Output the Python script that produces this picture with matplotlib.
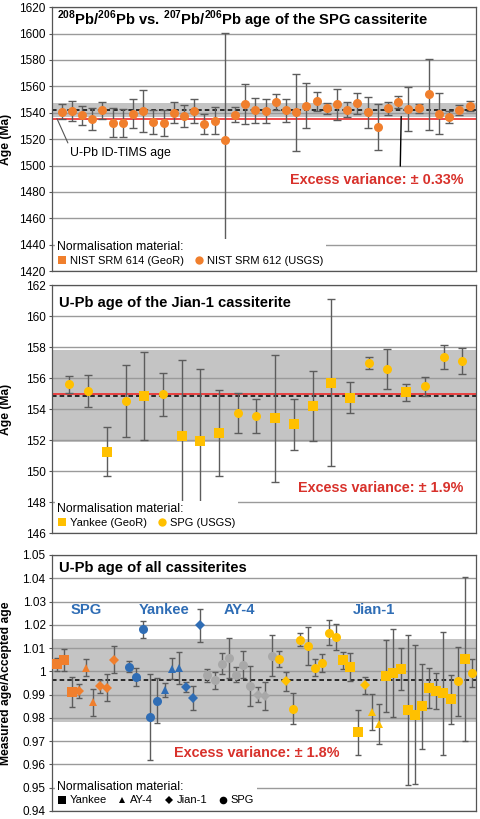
import numpy as np
import matplotlib
matplotlib.use('Agg')
import matplotlib.pyplot as plt
from matplotlib.lines import Line2D

plt.rcParams['font.family'] = ['Liberation Sans', 'DejaVu Sans']
plt.rcParams['mathtext.fontset'] = 'custom'
plt.rcParams['mathtext.rm'] = 'Liberation Sans'
plt.rcParams['mathtext.bf'] = 'Liberation Sans:bold'

# ---- panel 1: SPG 208Pb/206Pb vs 207Pb/206Pb ages (Ma) ----
spg_age = [1540.7, 1541.4, 1538.0, 1535.4, 1541.9, 1532.3, 1532.3, 1539.4, 1541.2, 1533.0,
           1532.3, 1540.0, 1537.6, 1541.2, 1531.6, 1534.0, 1519.2, 1538.6, 1546.5, 1541.7,
           1541.4, 1548.2, 1541.9, 1540.2, 1545.2, 1548.7, 1543.2, 1546.5, 1542.4, 1547.0,
           1540.2, 1529.3, 1543.2, 1548.2, 1543.0, 1543.2, 1554.0, 1539.4, 1536.9, 1541.9, 1545.2]
spg_err = [5.8, 7.7, 7.0, 8.5, 6.5, 11.0, 10.6, 10.8, 15.8, 9.1, 10.0, 7.9, 8.4, 8.9, 7.4,
           10.5, 81.0, 6.0, 15.4, 9.3, 9.3, 5.9, 8.6, 29.2, 17.0, 7.3, 4.4, 11.8, 5.8, 8.0,
           12.0, 17.4, 4.7, 4.4, 16.8, 3.2, 27.0, 15.2, 4.7, 3.6, 3.8]
spg_mean, spg_ev = 1542.2, 5.1
spg_tims = 1535.6

# ---- panel 2: Jian-1 U-Pb ages (Ma) ----
jian_age = [155.60, 155.18, 151.25, 154.54, 154.86, 154.97, 152.30, 151.96, 152.49, 153.76, 153.55,
            153.40, 153.03, 154.19, 155.72, 154.75, 156.99, 156.58, 155.08, 155.48, 157.37, 157.12]
jian_err = [0.57, 1.03, 1.58, 2.33, 2.85, 1.39, 4.90, 4.60, 2.77, 1.31, 1.11,
            4.08, 1.65, 2.26, 5.41, 1.00, 0.38, 1.28, 0.53, 0.61, 0.80, 0.84]
jian_norm = ['o', 'o', 's', 'o', 's', 'o', 's', 's', 's', 'o', 'o',
             's', 's', 's', 's', 's', 'o', 'o', 's', 'o', 'o', 'o']
jian_mean, jian_ev = 154.85, 2.94
jian_tims = 155.0

# ---- panel 3: measured/accepted age, all cassiterites (nan = gap) ----
nan = np.nan
ratio = [1.0030, 1.0050, 0.9910, 0.9917, 1.0015, 0.9867, 0.9935, 0.9929, 1.0050,
         nan,
         1.0019, 0.9976, 1.0181, 0.9804, 0.9874, 0.9919, 1.0011, 1.0015, 0.9933, 0.9886, 1.0197,
         0.9983, 0.9961, 1.0033, 1.0057, 0.9986, 1.0029, 0.9937, 0.9900, 0.9894, 1.0067,
         1.0053, 0.9957, 0.9839, 1.0136, 1.0110, 1.0015, 1.0036, 1.0165, 1.0146, 1.0047,
         1.0019, 0.9738, 0.9940, 0.9826, 0.9774, 0.9979, 0.9993, 1.0010, 0.9833, 0.9814,
         0.9850, 0.9929, 0.9915, 0.9905, 0.9879, 0.9957, 1.0053, 0.9993]
ratio_err = [0.0027, 0.0048, 0.0065, 0.0030, 0.0037, 0.0058, 0.0027, 0.0058, 0.0057,
             nan,
             0.0024, 0.0039, 0.0036, 0.0186, 0.0097, 0.0030, 0.0045, 0.0068, 0.0020, 0.0053, 0.0072,
             0.0029, 0.0037, 0.0046, 0.0087, 0.0031, 0.0058, 0.0086, 0.0032, 0.0062, 0.0088,
             0.0036, 0.0040, 0.0066, 0.0028, 0.0082, 0.0037, 0.0038, 0.0054, 0.0056, 0.0036,
             0.0061, 0.0096, 0.0036, 0.0077, 0.0086, 0.0155, 0.0190, 0.0090, 0.0322, 0.0297,
             0.0182, 0.0087, 0.0076, 0.0265, 0.0104, 0.0148, 0.0352, 0.0060]
sample = ['SPG'] * 9 + [''] + ['Yankee'] * 11 + ['AY-4'] * 10 + ['Jian-1'] * 28
norm = ['s', 's', 's', 'D', '^', '^', 'D', 'D', 'D',
        '',
        'o', 'o', 'o', 'o', 'o', '^', '^', '^', 'D', 'D', 'D',
        'o', 'o', 'o', 'o', 'o', 'o', 'o', 'D', 'D', 'o',
        'o', 'D', 'o', 'o', 'o', 'o', 'o', 'o', 'o', 's',
        's', 's', 'D', '^', '^', 's', 's', 's', 's', 's',
        's', 's', 's', 's', 's', 'o', 's', 'o']
all_mean, all_ev = 0.9961, 0.0178
group_names = ['SPG', 'Yankee', 'AY-4', 'Jian-1']

ORANGE = '#F07F2D'
YELLOW = '#FFC000'
BLUE = '#2F6DB5'
GREY = '#A8A8A8'
RED = '#D8312B'
ECOL = '#5C5C5C'
sample_col = {'SPG': ORANGE, 'Yankee': BLUE, 'AY-4': GREY, 'Jian-1': YELLOW}
msize = {'o': 6.5, 's': 6.5, 'D': 4.8, '^': 6}

fig = plt.figure(figsize=(4.8, 8.19), dpi=100)
ax1 = fig.add_axes([0.108, 0.669, 0.883, 0.3223])
ax2 = fig.add_axes([0.108, 0.349, 0.883, 0.3028])
ax3 = fig.add_axes([0.108, 0.0098, 0.883, 0.3126])


def style(ax):
    ax.set_axisbelow(True)
    ax.grid(axis='y', color='#9a9a9a', lw=1)
    ax.set_xticks([])
    ax.tick_params(axis='y', labelsize=8.5, length=2.5, color='#555', pad=2)
    for s in ax.spines.values():
        s.set_color('#555')
        s.set_linewidth(0.9)
    ax.yaxis.set_label_coords(-0.095, 0.5)


def legend(ax, handles, labels, ncol):
    lg = ax.legend(handles, labels, loc='lower left', ncol=ncol, title='Normalisation material:',
                   fontsize=8, title_fontsize=8.8, frameon=True, fancybox=False,
                   framealpha=1, edgecolor='none', borderaxespad=0.25, borderpad=0.25,
                   handlelength=0.8, handletextpad=0.3, columnspacing=1.0,
                   labelspacing=0.2, alignment='left')
    lg.set_zorder(5)
    return lg


# panel 1
x1 = np.arange(1, len(spg_age) + 1)
ax1.axhspan(spg_mean - spg_ev, spg_mean + spg_ev, color='#c4c4c4', zorder=0.2, lw=0)
ax1.axhline(spg_tims, color='#EE2A2A', lw=1.2, zorder=2)
ax1.axhline(spg_mean, color='black', lw=1.1, ls=(0, (3, 2)), zorder=2)
ax1.errorbar(x1, spg_age, yerr=spg_err, fmt='none', ecolor=ECOL, elinewidth=1,
             capsize=2.6, capthick=1, zorder=3)
ax1.plot(x1, spg_age, 'o', color=ORANGE, ms=6.5, mew=0, zorder=4)
ax1.set_xlim(0.05, 41.6)
ax1.set_ylim(1420, 1620)
ax1.set_yticks(np.arange(1420, 1621, 20))
ax1.set_ylabel('Age (Ma)', fontsize=8.7, fontweight='bold')
style(ax1)
ax1.text(0.013, 0.951, r'$^{\mathbf{208}}$Pb/$^{\mathbf{206}}$Pb vs. $^{\mathbf{207}}$Pb/$^{\mathbf{206}}$Pb age of the SPG cassiterite',
         transform=ax1.transAxes, fontsize=10.6, fontweight='bold', va='center', ha='left')
ax1.annotate('U-Pb ID-TIMS age', xy=(0.55, spg_tims), xytext=(1.8, 1509.5), fontsize=8.8,
             va='center', ha='left',
             arrowprops=dict(arrowstyle='-', color='#555', lw=0.8, shrinkA=1, shrinkB=0, relpos=(0, 1)))
ax1.annotate('Excess variance: ± 0.33%', xy=(34.3, spg_mean - spg_ev), xytext=(31.9, 1489),
             fontsize=10.4, fontweight='bold', color=RED, ha='center', va='center',
             arrowprops=dict(arrowstyle='-', color='black', lw=1, shrinkA=3, shrinkB=0, relpos=(0.635, 1)))
h1 = [Line2D([], [], marker='s', color=ORANGE, ls='none', ms=6, mew=0),
      Line2D([], [], marker='o', color=ORANGE, ls='none', ms=6, mew=0)]
legend(ax1, h1, ['NIST SRM 614 (GeoR)', 'NIST SRM 612 (USGS)'], 2)

# panel 2
x2 = np.arange(1, len(jian_age) + 1)
ax2.axhspan(jian_mean - jian_ev, jian_mean + jian_ev, color='#c4c4c4', zorder=0.2, lw=0)
ax2.axhline(jian_tims, color='#EE2A2A', lw=1.2, zorder=2)
ax2.axhline(jian_mean, color='black', lw=1.1, ls=(0, (3, 2)), zorder=2)
ax2.errorbar(x2, jian_age, yerr=jian_err, fmt='none', ecolor=ECOL, elinewidth=1,
             capsize=2.6, capthick=1, zorder=3)
jn = np.array(jian_norm)
for m in ['s', 'o']:
    k = jn == m
    ax2.plot(x2[k], np.array(jian_age)[k], m, color=YELLOW, ms=msize[m], mew=0, zorder=4)
ax2.set_xlim(0.06, 22.72)
ax2.set_ylim(146, 162)
ax2.set_yticks(np.arange(146, 163, 2))
ax2.set_ylabel('Age (Ma)', fontsize=8.7, fontweight='bold')
style(ax2)
ax2.text(0.018, 0.927, 'U-Pb age of the Jian-1 cassiterite', transform=ax2.transAxes,
         fontsize=10.6, fontweight='bold', va='center', ha='left')
ax2.text(0.776, 0.181, 'Excess variance: ± 1.9%', transform=ax2.transAxes, fontsize=10.4,
         fontweight='bold', color=RED, ha='center', va='center')
h2 = [Line2D([], [], marker='s', color=YELLOW, ls='none', ms=6, mew=0),
      Line2D([], [], marker='o', color=YELLOW, ls='none', ms=6, mew=0)]
legend(ax2, h2, ['Yankee (GeoR)', 'SPG (USGS)'], 2)

# panel 3
x3 = np.arange(len(ratio))
r = np.array(ratio)
re = np.array(ratio_err)
ax3.axhspan(all_mean - all_ev, all_mean + all_ev, color='#c4c4c4', zorder=0.2, lw=0)
ax3.axhline(all_mean, color='black', lw=1.1, ls=(0, (3, 2)), zorder=2)
ax3.errorbar(x3, r, yerr=re, fmt='none', ecolor=ECOL, elinewidth=1,
             capsize=2.4, capthick=1, zorder=3)
sa = np.array(sample)
na = np.array(norm)
for s in group_names:
    for m in ['s', '^', 'D', 'o']:
        k = (sa == s) & (na == m)
        if k.any():
            ax3.plot(x3[k], r[k], m, color=sample_col[s], ms=msize[m], mew=0, zorder=4)
    ax3.text(x3[sa == s].mean() if s != 'Jian-1' else 44.3, 1.0264, s, color=BLUE,
             fontsize=10.6, fontweight='bold', ha='center', va='center')
ax3.set_xlim(-0.75, 58.5)
ax3.set_ylim(0.94, 1.05)
yt = np.round(np.arange(0.94, 1.0501, 0.01), 2)
ax3.set_yticks(yt)
ax3.set_yticklabels(['1' if abs(v - 1) < 1e-9 else f'{v:g}' for v in yt])
ax3.set_ylabel('Measured age/Accepted age', fontsize=8.7, fontweight='bold')
style(ax3)
ax3.text(0.018, 0.949, 'U-Pb age of all cassiterites', transform=ax3.transAxes,
         fontsize=10.6, fontweight='bold', va='center', ha='left')
ax3.text(0.483, 0.227, 'Excess variance: ± 1.8%', transform=ax3.transAxes, fontsize=10.4,
         fontweight='bold', color=RED, ha='center', va='center')
h3 = [Line2D([], [], marker=m, color='black', ls='none', ms=msize[m] - 1, mew=0)
      for m in ['s', '^', 'D', 'o']]
legend(ax3, h3, ['Yankee', 'AY-4', 'Jian-1', 'SPG'], 4)

fig.savefig('out.png', dpi=100)
